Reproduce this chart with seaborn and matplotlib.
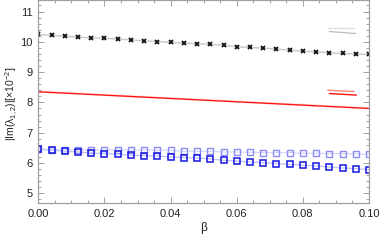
import numpy as np
import pandas as pd
import matplotlib
matplotlib.use("Agg")
import matplotlib.pyplot as plt
from matplotlib.ticker import MultipleLocator
import seaborn as sns

# ---- data ----
beta = [round(0.004 * i, 3) for i in range(26)]
black_x = [10.245, 10.21, 10.19, 10.155, 10.13, 10.12, 10.09, 10.065, 10.03, 10.01,
           9.98, 9.96, 9.935, 9.915, 9.89, 9.835, 9.815, 9.79, 9.76, 9.725,
           9.69, 9.67, 9.635, 9.615, 9.595, 9.585]
blue_dark = [6.453, 6.42, 6.387, 6.364, 6.33, 6.31, 6.288, 6.255, 6.245, 6.231,
             6.198, 6.178, 6.165, 6.132, 6.089, 6.066, 6.033, 6.013, 5.98, 5.957,
             5.924, 5.901, 5.868, 5.835, 5.815, 5.782]
blue_light = [6.453, 6.443, 6.436, 6.436, 6.43, 6.43, 6.432, 6.43, 6.43, 6.42,
              6.42, 6.387, 6.387, 6.387, 6.364, 6.364, 6.354, 6.344, 6.344, 6.344,
              6.32, 6.32, 6.31, 6.31, 6.298, 6.288]
beta_red = [0.0, 0.02, 0.04, 0.06, 0.08, 0.1]
red_dark = [8.35, 8.24, 8.13, 8.02, 7.91, 7.80]
red_light = [8.355, 8.245, 8.135, 8.025, 7.915, 7.805]

xticks = [0.00, 0.02, 0.04, 0.06, 0.08, 0.10]
xticklabels = ["0.00", "0.02", "0.04", "0.06", "0.08", "0.10"]
yticks = [5, 6, 7, 8, 9, 10, 11]

sns.set_theme(style="white")
plt.rcParams['font.family'] = ['Liberation Sans', 'DejaVu Sans']
plt.rcParams['mathtext.default'] = 'regular'

fig = plt.figure(figsize=(3.82, 2.42), dpi=100)
ax = fig.add_axes([0.1003, 0.16, 0.8657, 0.84])

df_k = pd.DataFrame({"beta": beta, "v": black_x})
df_bd = pd.DataFrame({"beta": beta, "v": blue_dark})
df_bl = pd.DataFrame({"beta": beta, "v": blue_light})
df_rd = pd.DataFrame({"beta": beta_red, "v": red_dark})
df_rl = pd.DataFrame({"beta": beta_red, "v": red_light})

sns.lineplot(data=df_rl, x="beta", y="v", ax=ax, color="#ff7070", lw=1.6, alpha=0.35)
sns.lineplot(data=df_rd, x="beta", y="v", ax=ax, color="#ff1010", lw=0.9)

sns.lineplot(data=df_bl, x="beta", y="v", ax=ax, color="#d8d8ff", lw=0.9,
             marker="s", markersize=3.8, markerfacecolor="none",
             markeredgecolor="#8c8cf5", markeredgewidth=1.0)
sns.lineplot(data=df_bd, x="beta", y="v", ax=ax, color="#c0c0f8", lw=0.9,
             marker="s", markersize=3.8, markerfacecolor="none",
             markeredgecolor="#1515e0", markeredgewidth=1.1)

sns.lineplot(data=df_k, x="beta", y="v", ax=ax, color="#c8c8c8", lw=1.0,
             marker="x", markersize=3.0, markeredgecolor="#111111",
             markeredgewidth=1.3)

# short legend-like line samples (no text)
ax.plot([0.875, 0.955], [0.86, 0.86], transform=ax.transAxes, color="#dddddd", lw=0.9)
ax.plot([0.88, 0.96], [0.845, 0.835], transform=ax.transAxes, color="#bbbbbb", lw=0.9)
ax.plot([0.875, 0.955], [0.556, 0.55], transform=ax.transAxes, color="#ff8080", lw=1.0)
ax.plot([0.88, 0.962], [0.54, 0.532], transform=ax.transAxes, color="#ff1010", lw=1.0)

ax.set_xlim(0.0, 0.10)
ax.set_ylim(4.67, 11.38)
ax.set_xticks(xticks)
ax.set_xticklabels(xticklabels)
ax.set_yticks(yticks)
ax.xaxis.set_minor_locator(MultipleLocator(0.005))
ax.yaxis.set_minor_locator(MultipleLocator(0.2))

fc = "#a0a0a0"
for s in ax.spines.values():
    s.set_color(fc)
    s.set_linewidth(0.9)
ax.tick_params(which="both", direction="in", top=True, right=True,
               bottom=True, left=True, color=fc, width=0.7,
               labelsize=8, labelcolor="#222222", pad=4)
ax.tick_params(which="major", length=4)
ax.tick_params(which="minor", length=2)

ax.set_xlabel("β", fontsize=8.5, color="#222222", labelpad=2)
ax.set_ylabel(r"|Im($\lambda_{1,2}$)|[×10$^{-2}$]", fontsize=7.5, color="#222222")
ax.yaxis.set_label_coords(-0.056, 0.49)

fig.savefig("out.png", dpi=100)
